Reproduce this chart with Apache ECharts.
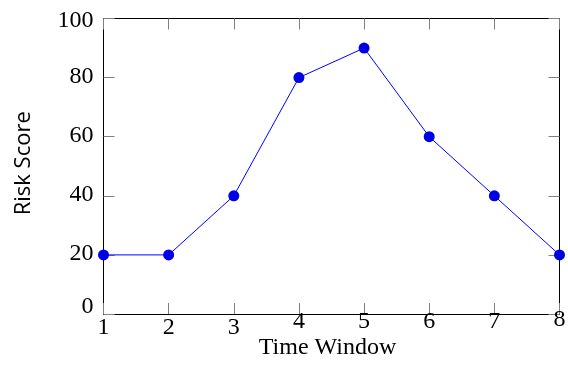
<!DOCTYPE html>
<html>
<head>
<meta charset="utf-8">
<script src="https://cdn.jsdelivr.net/npm/echarts@6/dist/echarts.min.js"></script>
<style>
html,body{margin:0;padding:0;background:#fff;}
#chart{width:568px;height:367px;}
</style>
</head>
<body>
<div id="chart"></div>
<script>
const timeWindows = [1, 2, 3, 4, 5, 6, 7, 8];
const riskScores = [20, 20, 40, 80, 90, 60, 40, 20];
const xLabel = 'Time Window';
const yLabel = 'Risk Score';

const chart = echarts.init(document.getElementById('chart'), null, {renderer: 'canvas'});
const serif = '"Liberation Serif", "Times New Roman", serif';
const tickColor = '#808080';

// vertical label nudges (style only)
const xRich = {
  a: {fontFamily: serif, fontSize: 24, color: '#000', padding: [0, 0, 0, 0]},
  b: {fontFamily: serif, fontSize: 24, color: '#000', padding: [0, 0, 12, 0]},
  c: {fontFamily: serif, fontSize: 24, color: '#000', padding: [0, 0, 16, 0]}
};
const yRich = {
  a: {fontFamily: serif, fontSize: 24, color: '#000', padding: [5, 0, 0, 0]},
  b: {fontFamily: serif, fontSize: 24, color: '#000', padding: [0, 0, 2, 0]},
  c: {fontFamily: serif, fontSize: 24, color: '#000', padding: [0, 0, 15, 0]}
};

const frameAxis = {
  axisLine: {show: true, onZero: false, lineStyle: {color: '#000', width: 1}},
  axisTick: {show: true, inside: true, length: 11, lineStyle: {color: tickColor, width: 1}},
  splitLine: {show: false}
};

const option = {
  animation: false,
  backgroundColor: '#fff',
  grid: {left: 103.5, right: 8.5, top: 18.5, bottom: 53, containLabel: false, outerBoundsMode: 'none'},
  xAxis: [
    Object.assign({
      type: 'value', position: 'bottom', min: 1, max: 8, interval: 1,
      name: xLabel, nameLocation: 'middle', nameGap: 22, nameMoveOverlap: false,
      nameTextStyle: {fontFamily: serif, fontSize: 24, color: '#000', padding: [0, 8, 0, 0]},
      axisLabel: {
        show: true, margin: 14, verticalAlign: 'middle', hideOverlap: false,
        formatter: function (v) {
          const cls = v <= 3 ? 'a' : (v === 8 ? 'c' : 'b');
          return '{' + cls + '|' + v + '}';
        },
        rich: xRich
      }
    }, frameAxis),
    Object.assign({
      type: 'value', position: 'top', min: 1, max: 8, interval: 1,
      axisLabel: {show: false}
    }, frameAxis)
  ],
  yAxis: [
    Object.assign({
      type: 'value', position: 'left', min: 0, max: 100, interval: 20,
      name: yLabel, nameLocation: 'middle', nameGap: 69, nameRotate: 90, nameMoveOverlap: false,
      nameTextStyle: {fontFamily: '"Open Sans", "Noto Sans", sans-serif', fontSize: 22, color: '#000', padding: [0, 0, 0, 6]},
      axisLabel: {
        show: true, margin: 10, hideOverlap: false,
        formatter: function (v) {
          const cls = v === 100 ? 'a' : (v === 0 ? 'c' : 'b');
          return '{' + cls + '|' + v + '}';
        },
        rich: yRich
      }
    }, frameAxis),
    Object.assign({
      type: 'value', position: 'right', min: 0, max: 100, interval: 20,
      axisLabel: {show: false}
    }, frameAxis)
  ],
  series: [
    {
      type: 'line',
      xAxisIndex: 0, yAxisIndex: 0,
      data: timeWindows.map((t, i) => [t, riskScores[i]]),
      symbol: 'circle', symbolSize: 11,
      lineStyle: {color: '#0000ff', width: 1},
      itemStyle: {color: '#0000e6'},
      clip: false
    }
  ]
};
chart.setOption(option);
</script>
</body>
</html>
